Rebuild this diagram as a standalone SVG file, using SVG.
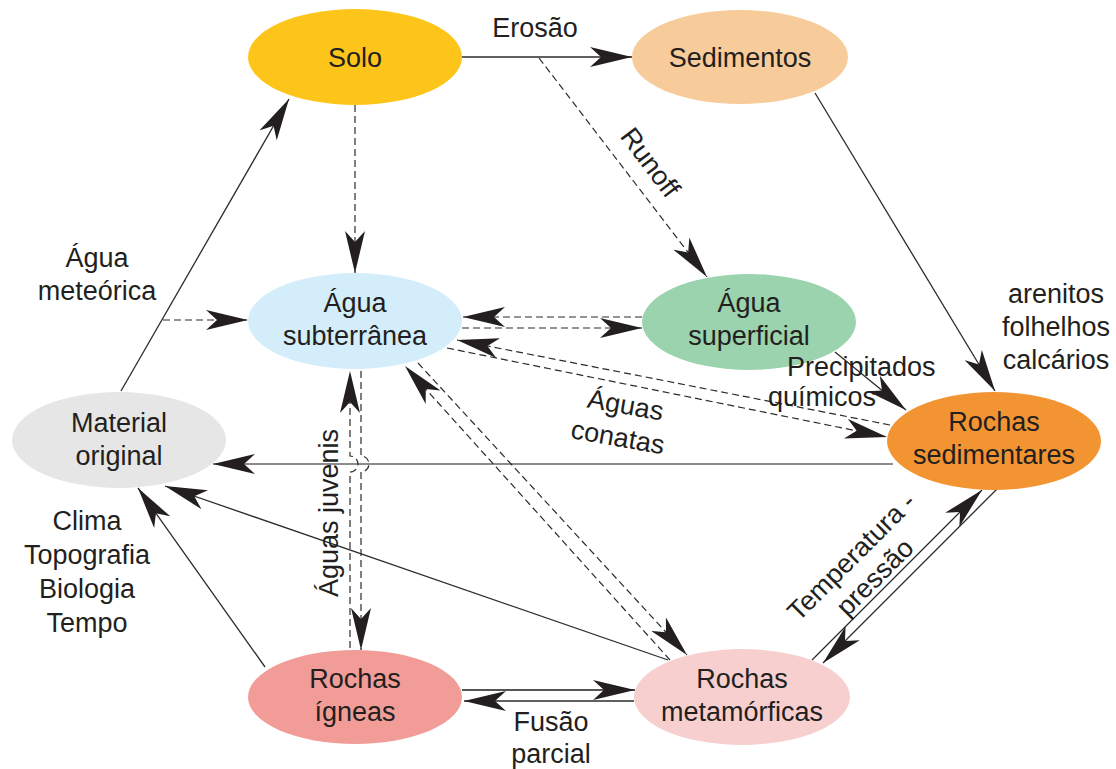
<svg xmlns="http://www.w3.org/2000/svg" width="1116" height="769" viewBox="0 0 1116 769">
<style>
text{font-family:"Liberation Sans",Arial,sans-serif;font-size:27px;fill:#231F20;}
.c{text-anchor:middle;}
.s{fill:none;stroke:#2b2b2b;stroke-width:1.3;}
.d{fill:none;stroke:#2b2b2b;stroke-width:1.2;stroke-dasharray:7 4;}
.g{fill:none;stroke:#8c8c8c;stroke-width:2.2;}
.a{marker-end:url(#ah);}
</style>
<defs>
<marker id="ah" viewBox="0 0 42 20" refX="42" refY="10" markerWidth="42" markerHeight="20" orient="auto" markerUnits="userSpaceOnUse">
<path d="M42,10 L0,0 L11,10 L0,20 Z" fill="#231F20"/>
</marker>
</defs>
<rect width="1116" height="769" fill="#ffffff"/>

<g id="connectors">
<line class="s a" x1="462" y1="57" x2="632" y2="57"/>
<line class="d a" x1="539" y1="58" x2="707" y2="277"/>
<line class="d a" x1="355" y1="105" x2="355" y2="273"/>
<line class="s a" x1="121" y1="391" x2="289" y2="99"/>
<line class="d a" x1="163" y1="320" x2="248" y2="320"/>
<line class="d a" x1="642" y1="317" x2="463" y2="317"/>
<line class="d a" x1="462" y1="328" x2="642" y2="328"/>
<line class="d a" x1="890" y1="425" x2="457" y2="340"/>
<line class="d a" x1="447" y1="348" x2="887" y2="437"/>
<line class="s a" x1="835" y1="352" x2="906" y2="410"/>
<line class="s a" x1="815" y1="93" x2="995" y2="391"/>
<line class="g a" x1="893" y1="464" x2="213" y2="464"/>
<line class="s a" x1="265" y1="667" x2="138" y2="488"/>
<line class="s a" x1="668" y1="660" x2="165" y2="486"/>
<path class="d a" d="M350,648 V472 A8,8 0 0,0 350,456 V371"/>
<path class="d a" d="M361,371 V456 A8,8 0 0,1 361,472 V650"/>
<line class="d a" x1="670" y1="660" x2="405" y2="366"/>
<line class="d a" x1="418" y1="363" x2="687" y2="655"/>
<line class="s a" x1="462" y1="690" x2="635" y2="690" style="stroke:#555;stroke-width:1.8"/>
<line class="s a" x1="634" y1="701" x2="464" y2="701"/>
<line class="s a" x1="812" y1="660" x2="982" y2="490"/>
<line class="s a" x1="998" y1="488" x2="823" y2="663"/>
</g>

<g id="node-solo">
<ellipse cx="355" cy="57" rx="107" ry="48" fill="#FDC51A"/>
<text class="c" x="355" y="67">Solo</text>
</g>
<g id="node-sedimentos">
<ellipse cx="740" cy="57" rx="108" ry="47" fill="#F8CB9A"/>
<text class="c" x="740" y="67">Sedimentos</text>
</g>
<g id="node-agua-subterranea">
<ellipse cx="355" cy="321" rx="107" ry="48" fill="#D3EEFA"/>
<text class="c" x="355" y="312">Água</text>
<text class="c" x="355" y="345">subterrânea</text>
</g>
<g id="node-agua-superficial">
<ellipse cx="749" cy="322" rx="107" ry="48" fill="#9AD3AE"/>
<text class="c" x="749" y="312">Água</text>
<text class="c" x="749" y="345">superficial</text>
</g>
<g id="node-material-original">
<ellipse cx="119" cy="440" rx="107" ry="48" fill="#E6E6E6"/>
<text class="c" x="119" y="432">Material</text>
<text class="c" x="119" y="465">original</text>
</g>
<g id="node-rochas-sedimentares">
<ellipse cx="994" cy="441" rx="107" ry="49" fill="#F39433"/>
<text class="c" x="994" y="431">Rochas</text>
<text class="c" x="994" y="464">sedimentares</text>
</g>
<g id="node-rochas-igneas">
<ellipse cx="355" cy="697" rx="107" ry="47" fill="#F29C97"/>
<text class="c" x="355" y="688">Rochas</text>
<text class="c" x="355" y="721">ígneas</text>
</g>
<g id="node-rochas-metamorficas">
<ellipse cx="742" cy="697" rx="108" ry="48" fill="#F7CFCF"/>
<text class="c" x="742" y="688">Rochas</text>
<text class="c" x="742" y="721">metamórficas</text>
</g>

<g id="labels">
<text class="c" x="535" y="37">Erosão</text>
<text class="c" transform="translate(643,168) rotate(53)">Runoff</text>
<text class="c" x="97" y="267">Água</text>
<text class="c" x="97" y="300">meteórica</text>
<text x="787" y="376">Precipitados</text>
<text x="768" y="406">químicos</text>
<text class="c" x="1056" y="303">arenitos</text>
<text class="c" x="1056" y="336">folhelhos</text>
<text class="c" x="1056" y="369">calcários</text>
<g transform="translate(624,414) rotate(10)">
<text class="c" x="0" y="0">Águas</text>
<text class="c" x="-2" y="33">conatas</text>
</g>
<text class="c" x="87" y="530">Clima</text>
<text class="c" x="87" y="564">Topografia</text>
<text class="c" x="87" y="598">Biologia</text>
<text class="c" x="87" y="632">Tempo</text>
<text class="c" transform="translate(338,513) rotate(-90)">Águas juvenis</text>
<g transform="translate(858,563) rotate(-45)">
<text class="c" x="0" y="0">Temperatura -</text>
<text class="c" x="2" y="31">pressão</text>
</g>
<text class="c" x="551" y="731">Fusão</text>
<text class="c" x="551" y="763">parcial</text>
</g>
</svg>
